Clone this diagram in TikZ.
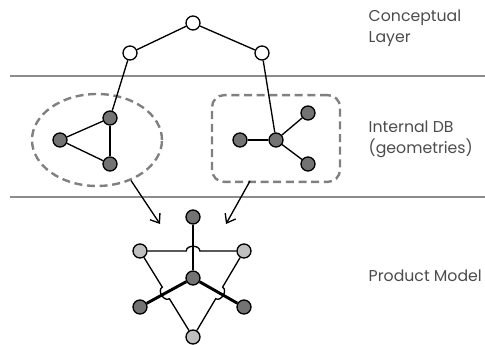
\documentclass[tikz,border=0pt]{standalone}
\usepackage{fontspec}
\setmainfont{Poppins}
\usetikzlibrary{shapes.geometric,calc,arrows.meta}

\begin{document}
\begin{tikzpicture}[
x=0.75pt,y=-0.75pt,
>={Straight Barb[length=6pt,width=9pt]},
line/.style={draw,line width=1pt},
thickl/.style={draw,line width=2.2pt},
sepl/.style={draw,line width=1.2pt,color=black!45},
grp/.style={draw,line width=1.8pt,color=black!50,dash pattern=on 6pt off 3.5pt},
conc/.style={draw,circle,inner sep=0pt,minimum size=10.5pt,line width=1pt,fill=white},
geo/.style={conc,fill=black!55},
prod/.style={conc,fill=black!25},
lbl/.style={text=black!70,font=\fontsize{11.8}{15.5}\selectfont,align=left,anchor=west}
]
\useasboundingbox (0,0) rectangle (485,345);

%separators
\path[sepl] (10,76) -- (485,76);
\path[sepl] (10,197) -- (485,197);

%conceptual layer
\node[conc] (c0) at (193,23) {};
	\node[conc] (c1) at (130,53) {};
	\node[conc] (c2) at (262,53) {};

%geometries
\node[grp,ellipse,minimum width=97.5pt,minimum height=69pt] (geo1) at (97,140) {};
\node[grp,rounded corners=9pt,minimum width=96pt,minimum height=65pt] (geo2) at (276,138.5) {};

\node[geo] (g1) at (110,118) {};
	\node[geo] (g2) at (60,140) {};
	\node[geo] (g3) at (110,164) {};

\node[geo] (g5) at (276,140) {};
	\node[geo] (g4) at (240,140) {};
	\node[geo] (g6) at (308,113) {};
	\node[geo] (g7) at (308,164) {};

%product model
\node[geo] (p1) at (193,217) {};
\node[prod] (pl) at (140,251) {};
\node[prod] (pr) at (244,251) {};
\node[geo] (pc) at (193,278) {};
	\node[geo] (pbl) at (140,307) {};
	\node[geo] (pbr) at (244,307) {};
\node[prod] (pb) at (193,337) {};

\coordinate (a1) at (160,224);
\coordinate (a2s) at (250,181);
\coordinate (a2) at (226,224);

\path[line] (c0) -- (c1);
\path[line] (c0) -- (c2);
	\path[line] (c1) -- (g1);
	\path[line] (c2) -- (g5);

\path[line] (g1) -- (g2);
\path[line] (g2) -- (g3);
\path[line] (g1) -- (g3);

\path[line] (g5) -- (g4);
\path[line] (g5) -- (g6);
\path[line] (g5) -- (g7);

\path[thickl] (p1) -- (pc);
\path[thickl] (pc) -- (pbl);
\path[thickl] (pc) -- (pbr);

%hops
\path[line] (pl) -- ($(pl)!0.445!(pr)$) to[bend left=90,looseness=1.2] ($(pl)!0.575!(pr)$) -- (pr);
\path[line] (pl) -- ($(pl)!0.42!(pb)$) to[bend right=90,looseness=1.2] ($(pl)!0.555!(pb)$) -- (pb);
\path[line] (pr) -- ($(pr)!0.42!(pb)$) to[bend left=90,looseness=1.2] ($(pr)!0.555!(pb)$) -- (pb);

\path[line,->] (geo1.-50) -- (a1);
\path[line,->] (a2s) -- (a2);

%layers
\node[lbl] (lay1) at (364,28) {Conceptual\\Layer};
\node[lbl] (lay2) at (364,139) {Internal DB\\(geometries)};
\node[lbl] (lay3) at (364,276) {Product Model};

\end{tikzpicture}
\end{document}
